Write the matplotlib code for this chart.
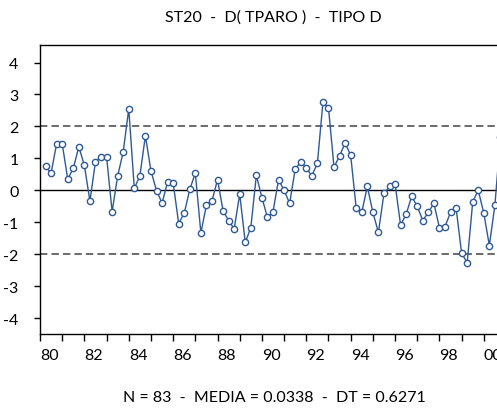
import numpy as np
import pandas as pd
import matplotlib
matplotlib.use("Agg")
import matplotlib.pyplot as plt

plt.rcParams["font.family"] = ["Lato", "DejaVu Sans"]
plt.rcParams["axes.unicode_minus"] = False

# Serie trimestral D(TPARO), 1980Q2 - 2000Q4
valores = [
    0.75, 0.54, 1.46, 1.46, 0.35, 0.69, 1.36, 0.78, -0.34, 0.90,
    1.05, 1.05, -0.67, 0.45, 1.20, 2.55, 0.06, 0.45, 1.71, 0.61,
    -0.01, -0.40, 0.26, 0.23, -1.04, -0.72, 0.03, 0.54, -1.34, -0.46,
    -0.33, 0.33, -0.64, -0.95, -1.21, -0.12, -1.63, -1.17, 0.47, -0.23,
    -0.85, -0.67, 0.33, 0.00, -0.41, 0.66, 0.89, 0.69, 0.46, 0.84,
    2.76, 2.59, 0.72, 1.08, 1.48, 1.10, -0.56, -0.69, 0.12, -0.69,
    -1.32, -0.10, 0.12, 0.21, -1.09, -0.75, -0.19, -0.50, -0.95, -0.69,
    -0.41, -1.17, -1.14, -0.69, -0.55, -1.97, -2.27, -0.36, 0.00, -0.72,
    -1.73, -0.46, 1.67,
]
periodos = pd.period_range("1980Q2", periods=len(valores), freq="Q")
fechas = periodos.year + (periodos.quarter - 1) / 4.0

anios_mayores = [1980, 1982, 1984, 1986, 1988, 1990, 1992, 1994, 1996, 1998, 2000]
etiquetas_x = ["80", "82", "84", "86", "88", "90", "92", "94", "96", "98", "00"]
anios_menores = [1981, 1983, 1985, 1987, 1989, 1991, 1993, 1995, 1997, 1999]
ticks_y = [-4, -3, -2, -1, 0, 1, 2, 3, 4]
limites = [-2, 2]

titulo = "ST20  -  D( TPARO )  -  TIPO D"
pie = "N = 83  -  MEDIA = 0.0338  -  DT = 0.6271"

fig = plt.figure(figsize=(4.97, 4.10), dpi=100)
ax = fig.add_axes([40.0 / 497, 1 - 335 / 410, 466 / 497, 289 / 410])

ax.axhline(0, color="black", linewidth=1.0, zorder=1)
for lim in limites:
    ax.axhline(lim, color="#6a6a6a", linewidth=1.4, linestyle=(0, (3.8, 2.1)), zorder=1)

ax.plot(fechas, valores, color="#2d5a96", linewidth=1.0, marker="o", markersize=4.5,
        markerfacecolor="white", markeredgecolor="#2d5a96", markeredgewidth=1.0, zorder=3)

ax.set_xlim(1980, 2001)
ax.set_ylim(-4.5, 4.55)

ax.set_xticks(anios_mayores)
ax.set_xticklabels(etiquetas_x, ha="left")
ax.set_xticks(anios_menores, minor=True)
ax.tick_params(axis="x", which="both", length=5, width=1, pad=5, labelsize=11.5)
ax.set_yticks(ticks_y)
ax.tick_params(axis="y", length=4.5, width=1, pad=11, labelsize=11.5)

for sp in ax.spines.values():
    sp.set_linewidth(1.0)

fig.text(273 / 497, 1 - 18 / 410, titulo, ha="center", va="center", fontsize=11.5)
fig.text(274 / 497, 1 - 398 / 410, pie, ha="center", va="center", fontsize=11.5)

fig.savefig("out.png", dpi=100)
